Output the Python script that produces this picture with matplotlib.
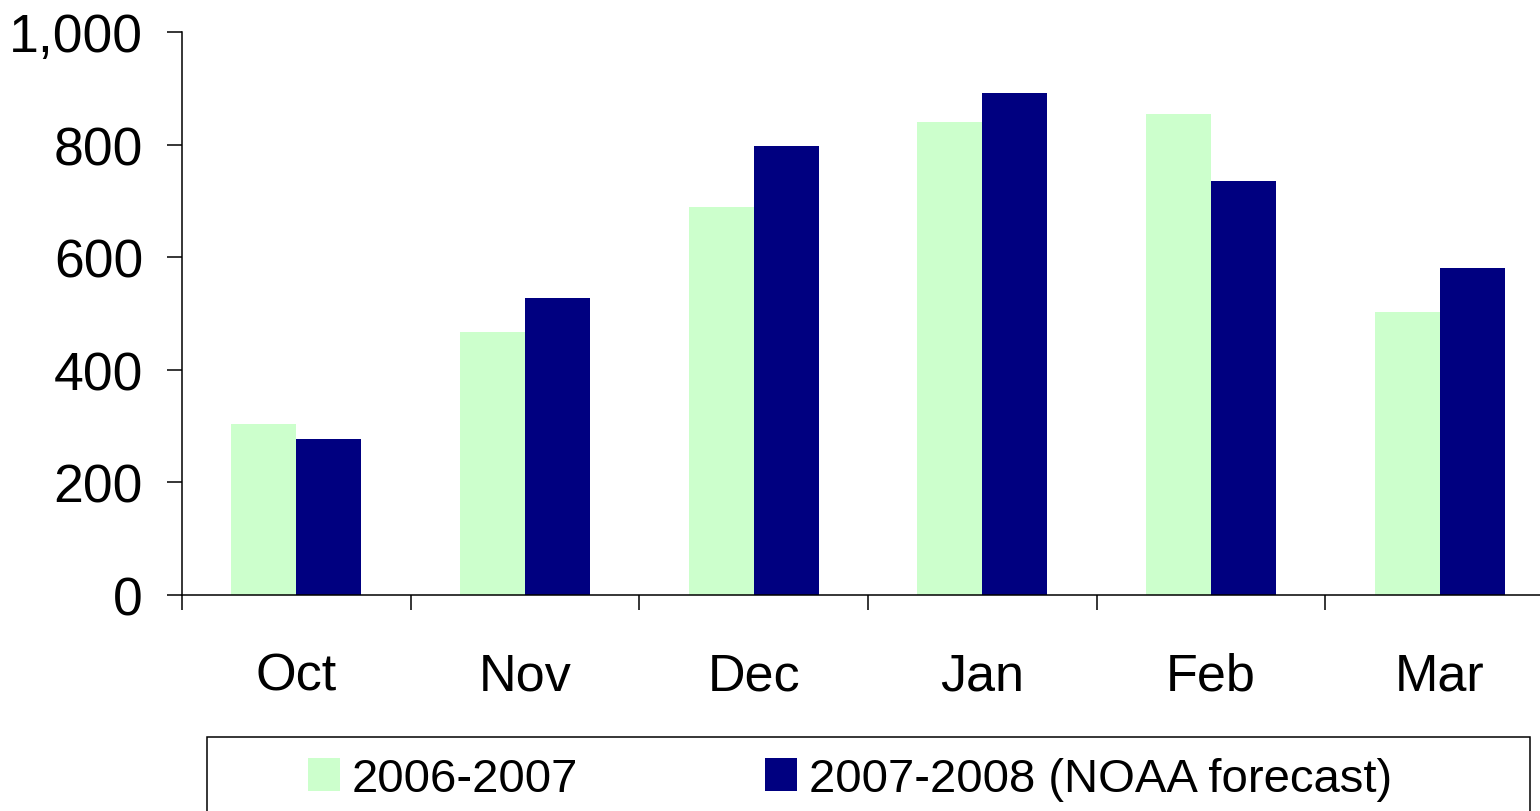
import matplotlib
matplotlib.use("Agg")
import matplotlib.pyplot as plt
import numpy as np
from matplotlib.patches import Rectangle, Patch
from matplotlib.ticker import FuncFormatter

plt.rcParams['font.family'] = ['Liberation Sans', 'DejaVu Sans']

months = ["Oct", "Nov", "Dec", "Jan", "Feb", "Mar"]
series_names = ["2006-2007", "2007-2008 (NOAA forecast)"]
values_0607 = [303, 467, 690, 841, 854, 502]
values_0708 = [277, 527, 798, 891, 736, 580]
colors = ["#CCFFCC", "#000080"]

fig = plt.figure(figsize=(15.4, 8.12), dpi=100)
ax = fig.add_axes([182/1540, 216/812, 1372/1540, 563/812])

x = np.arange(len(months))
w = 0.284
ax.bar(x - w/2, values_0607, width=w, color=colors[0], linewidth=0)
ax.bar(x + w/2, values_0708, width=w, color=colors[1], linewidth=0)

ax.set_xlim(-0.5, len(months) - 0.5)
ax.set_ylim(0, 1000)
ax.set_yticks(np.arange(0, 1001, 200))
ax.yaxis.set_major_formatter(FuncFormatter(lambda v, p: f"{int(v):,}"))

ax.set_xticks(x)
ax.set_xticklabels(months)
ax.set_xticks(np.arange(-0.5, len(months) + 0.5, 1), minor=True)
ax.tick_params(axis='x', which='major', length=0, pad=41, labelsize=37.5)
ax.tick_params(axis='x', which='minor', length=11, width=1.1, direction='out')
ax.tick_params(axis='y', which='major', length=11, width=1.1, direction='out', pad=17, labelsize=38.5)

for s in ['top', 'right']:
    ax.spines[s].set_visible(False)
for s in ['left', 'bottom']:
    ax.spines[s].set_linewidth(1.1)

# legend frame
fig.patches.append(Rectangle((207/1540, -0.05), 1323/1540, 0.05 + 74/812,
                             transform=fig.transFigure, fill=False,
                             edgecolor='black', linewidth=1.1))
handles = [Patch(facecolor=c, edgecolor='none') for c in colors]
fig.legend(handles, series_names, ncol=2, frameon=False, loc='center left',
           bbox_to_anchor=(308/1540, 32/812), borderaxespad=0, borderpad=0,
           fontsize=34, handlelength=0.68, handleheight=0.72,
           handletextpad=0.25, columnspacing=3.95)

fig.savefig("out.png", dpi=100)
